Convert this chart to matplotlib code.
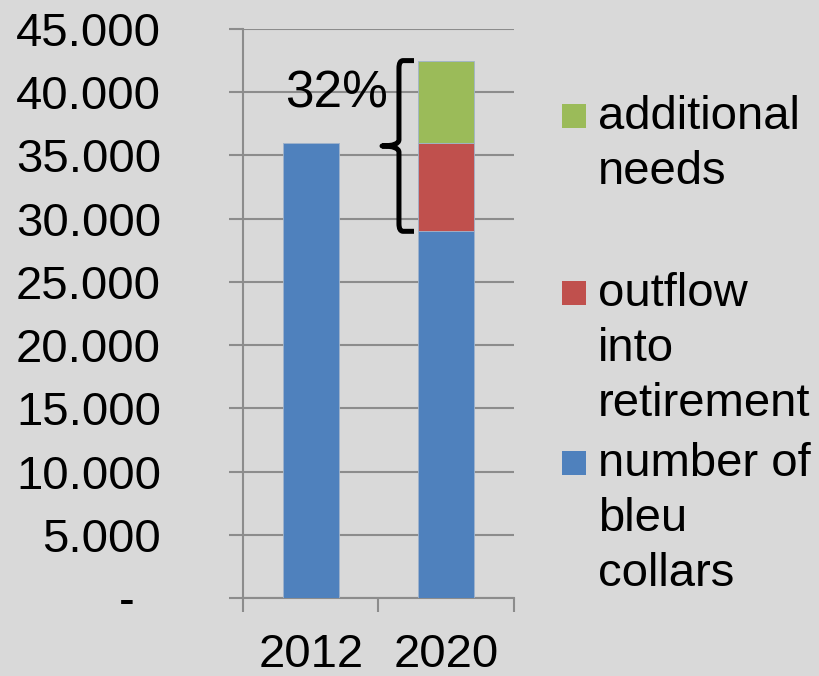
import matplotlib.pyplot as plt
import numpy as np
from matplotlib.path import Path
from matplotlib.patches import PathPatch, Rectangle
from matplotlib.ticker import FuncFormatter

years = ['2012', '2020']
blueCollars = [36000, 29000]
outflow = [0, 7000]
additional = [0, 6500]
seriesLabels = ['number of\nbleu\ncollars', 'outflow\ninto\nretirement', 'additional\nneeds']
seriesColors = ['#4f81bd', '#c0504d', '#9bbb59']

plt.rcParams['font.family'] = ['Liberation Sans', 'DejaVu Sans']
bg = '#d9d9d9'
gridCol = '#8c8c8c'
fs = 34
W, H = 820, 676

fig = plt.figure(figsize=(W / 100, H / 100), dpi=100, facecolor=bg)
ax = fig.add_axes([243 / W, 1 - 598 / H, (514 - 243) / W, (598 - 29) / H])
ax.set_facecolor(bg)

x = np.arange(len(years))
width = 0.41
bottoms = np.zeros(len(years))
for vals, col in zip([blueCollars, outflow, additional], seriesColors):
	ax.bar(x, vals, width, bottom=bottoms, color=col, edgecolor='#9fb3cc', linewidth=0.6, zorder=3)
	bottoms += np.array(vals)

ax.set_xlim(-0.5, len(years) - 0.5)
ax.set_ylim(0, 45000)
ax.set_yticks(np.arange(0, 45001, 5000))
ax.yaxis.set_major_formatter(FuncFormatter(lambda v, p: '-  ' if v == 0 else f'{int(v):,}'.replace(',', '.')))
ax.grid(axis='y', color=gridCol, linewidth=1.5, zorder=1)
ax.set_xticks(np.arange(len(years) + 1) - 0.5)
ax.set_xticklabels([])
ax.set_xticks(x, minor=True)
ax.set_xticklabels(years, minor=True)
ax.tick_params(axis='x', which='major', direction='out', length=10, width=1.5, color=gridCol)
ax.tick_params(axis='x', which='minor', length=0, pad=25, labelsize=fs)
ax.tick_params(axis='y', direction='out', length=10, width=1.5, color=gridCol, pad=49, labelsize=fs)
for s in ['top', 'right']:
	ax.spines[s].set_visible(False)
for s in ['left', 'bottom']:
	ax.spines[s].set_color(gridCol)
	ax.spines[s].set_linewidth(1.5)

# brace around the 2020 increase
low = blueCollars[1]
high = bottoms[1]
mid = (low + high) / 2
bx, tip, arm = 0.651, 0.526, 0.762
r = 600
verts = [(arm, high), (bx + 0.03, high), (bx, high), (bx, high - r),
		 (bx, mid + 500), (bx, mid), (tip, mid),
		 (bx, mid), (bx, mid - 500),
		 (bx, low + r), (bx, low), (bx + 0.03, low), (arm, low)]
codes = [Path.MOVETO, Path.LINETO, Path.CURVE3, Path.CURVE3,
		 Path.LINETO, Path.CURVE3, Path.CURVE3,
		 Path.CURVE3, Path.CURVE3,
		 Path.LINETO, Path.CURVE3, Path.CURVE3, Path.LINETO]
ax.add_patch(PathPatch(Path(verts, codes), facecolor='none', edgecolor='black',
					   linewidth=3.6, capstyle='butt', joinstyle='round', zorder=5, clip_on=False))
pct = (high - low) / high * 100
ax.text(0.571, 38800, f'{pct:.0f}%', ha='right', va='baseline', fontsize=37, zorder=6)

# legend, top to bottom (baseline of first line in pixels)
baselines = [130, 307, 477]
for lab, col, yb in zip(seriesLabels[::-1], seriesColors[::-1], baselines):
	fig.add_artist(Rectangle((562 / W, 1 - (yb - 2) / H), 24 / W, 24 / H,
							 transform=fig.transFigure, facecolor=col, edgecolor='none'))
	fig.text(598 / W, 1 - (yb - 35) / H, lab, ha='left', va='top', fontsize=fs, linespacing=1.32)

fig.savefig('out.png', dpi=100, facecolor=bg)
